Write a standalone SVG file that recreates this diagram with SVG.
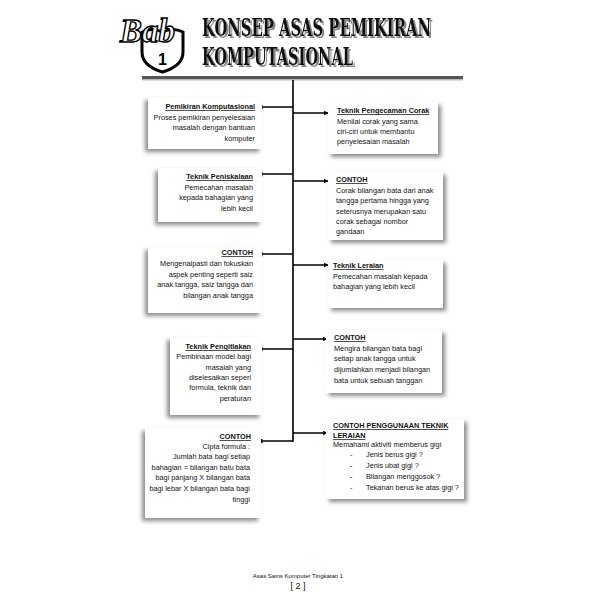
<svg xmlns="http://www.w3.org/2000/svg" width="593" height="593" viewBox="0 0 593 593">
<style>
.t{font-family:"Liberation Sans",Arial,sans-serif;font-size:7.3px;fill:#111}
.b{font-weight:bold;text-decoration:underline}
.r{text-anchor:end}
.box{fill:#fff}
.ln{stroke:#000;stroke-width:1.6;fill:none}
.ttl{font-family:"DejaVu Serif Condensed","DejaVu Serif",serif;font-weight:bold;font-size:24.5px;fill:#111}
</style>
<defs>
<filter id="shL" x="-20%" y="-20%" width="140%" height="140%"><feDropShadow dx="-3" dy="3" stdDeviation="2" flood-color="#000" flood-opacity="0.45"/></filter>
<filter id="shR" x="-20%" y="-20%" width="140%" height="140%"><feDropShadow dx="3" dy="3" stdDeviation="2" flood-color="#000" flood-opacity="0.45"/></filter>
<filter id="shT" x="-10%" y="-50%" width="120%" height="200%"><feDropShadow dx="2" dy="2" stdDeviation="0.6" flood-color="#888" flood-opacity="1"/></filter>
<marker id="ah" viewBox="0 0 10 10" refX="9" refY="5" markerWidth="5" markerHeight="5" markerUnits="userSpaceOnUse" orient="auto"><path d="M0,0 L10,5 L0,10 Z" fill="#000"/></marker>
</defs>
<rect width="593" height="593" fill="#fff"/>

<g id="header">
<path d="M142,32 Q152,27 162.5,32 Q173,27 183,32 L183,52 Q183,66 162.5,72 Q142,66 142,52 Z" fill="#fff" stroke="#000" stroke-width="3"/>
<text x="162.5" y="65" text-anchor="middle" style="font-family:'Liberation Sans',sans-serif;font-weight:bold;font-size:16px" fill="#000">1</text>
<text x="120" y="42" style="font-family:'Liberation Serif',serif;font-style:italic;font-weight:bold;font-size:33px" fill="#fff" stroke="#000" stroke-width="1.4">Bab</text>
<text x="202" y="36" class="ttl" filter="url(#shT)" textLength="229" lengthAdjust="spacingAndGlyphs">KONSEP ASAS PEMIKIRAN</text>
<text x="202" y="65" class="ttl" filter="url(#shT)" textLength="151" lengthAdjust="spacingAndGlyphs">KOMPUTASIONAL</text>
<rect x="142" y="76" width="321" height="3" fill="#555"/>
<rect x="142" y="79" width="321" height="1.5" fill="#bbb"/>
</g>

<g id="connectors">
<line class="ln" x1="293" y1="80" x2="293" y2="441.8"/>
<line class="ln" x1="293" y1="107" x2="258" y2="107" marker-end="url(#ah)"/>
<line class="ln" x1="293" y1="174" x2="258" y2="174" marker-end="url(#ah)"/>
<line class="ln" x1="293" y1="254" x2="258" y2="254" marker-end="url(#ah)"/>
<line class="ln" x1="293" y1="349" x2="258" y2="349" marker-end="url(#ah)"/>
<line class="ln" x1="293" y1="441" x2="258" y2="441" marker-end="url(#ah)"/>
<line class="ln" x1="293" y1="113" x2="328" y2="113" marker-end="url(#ah)"/>
<line class="ln" x1="293" y1="181" x2="328" y2="181" marker-end="url(#ah)"/>
<line class="ln" x1="293" y1="265" x2="328" y2="265" marker-end="url(#ah)"/>
<line class="ln" x1="293" y1="339" x2="327" y2="339" marker-end="url(#ah)"/>
<line class="ln" x1="293" y1="433" x2="327" y2="433" marker-end="url(#ah)"/>
</g>

<g id="n-pemikiran">
<rect class="box" x="148" y="97" width="114" height="52" filter="url(#shL)"/>
<text class="t r b" x="255" y="109">Pemikiran Komputasional</text>
<text class="t r" x="255" y="119.5">Proses pemikiran penyelesaian</text>
<text class="t r" x="255" y="130">masalah dengan bantuan</text>
<text class="t r" x="255" y="140.5">komputer</text>
</g>

<g id="n-peniskalaan">
<rect class="box" x="158" y="168" width="104" height="54" filter="url(#shL)"/>
<text class="t r b" x="253" y="179">Teknik Peniskalaan</text>
<text class="t r" x="253" y="189.5">Pemecahan masalah</text>
<text class="t r" x="253" y="200">kepada bahagian yang</text>
<text class="t r" x="253" y="210.5">lebih kecil</text>
</g>

<g id="n-contoh-l1">
<rect class="box" x="148" y="247" width="114" height="66" filter="url(#shL)"/>
<text class="t r b" x="253" y="255">CONTOH</text>
<text class="t r" x="253" y="266">Mengenalpasti dan fokuskan</text>
<text class="t r" x="253" y="276.5">aspek penting seperti saiz</text>
<text class="t r" x="253" y="287">anak tangga, saiz tangga dan</text>
<text class="t r" x="253" y="297.5">bilangan anak tangga</text>
</g>

<g id="n-pengitlakan">
<rect class="box" x="170" y="337" width="92" height="78" filter="url(#shL)"/>
<text class="t r b" x="251" y="349">Teknik Pengitlakan</text>
<text class="t r" x="251" y="359">Pembinaan model bagi</text>
<text class="t r" x="251" y="369.5">masalah yang</text>
<text class="t r" x="251" y="380">diselesaikan seperi</text>
<text class="t r" x="251" y="390">formula, teknik dan</text>
<text class="t r" x="251" y="400.5">peraturan</text>
</g>

<g id="n-contoh-l2">
<rect class="box" x="145" y="428" width="116" height="90" filter="url(#shL)"/>
<text class="t r b" x="251" y="439">CONTOH</text>
<text class="t r" x="250" y="449">Cipta formula :</text>
<text class="t r" x="250" y="459">Jumlah bata bagi setiap</text>
<text class="t r" x="250" y="469.5">bahagian = bilangan batu bata</text>
<text class="t r" x="250" y="480">bagi panjang X bilangan bata</text>
<text class="t r" x="250" y="490.5">bagi lebar X bilangan bata bagi</text>
<text class="t r" x="250" y="502">tinggi</text>
</g>

<g id="n-pengecaman">
<rect class="box" x="328" y="102" width="110" height="52" filter="url(#shR)"/>
<text class="t b" x="337" y="113">Teknik Pengecaman Corak</text>
<text class="t" x="337" y="123.5">Menilai corak yang sama</text>
<text class="t" x="337" y="133.5">ciri-ciri untuk membantu</text>
<text class="t" x="337" y="144">penyelesaian masalah</text>
</g>

<g id="n-contoh-r1">
<rect class="box" x="328" y="172" width="115" height="68" filter="url(#shR)"/>
<text class="t b" x="336" y="182">CONTOH</text>
<text class="t" x="336" y="192.5">Corak bilangan bata dari anak</text>
<text class="t" x="336" y="203">tangga pertama hingga yang</text>
<text class="t" x="336" y="213.5">seterusnya merupakan satu</text>
<text class="t" x="336" y="224">corak sebagai nombor</text>
<text class="t" x="336" y="234">gandaan</text>
</g>

<g id="n-leraian">
<rect class="box" x="328" y="260" width="115" height="48" filter="url(#shR)"/>
<text class="t b" x="333" y="268">Teknik Leraian</text>
<text class="t" x="333" y="278.5">Pemecahan masalah kepada</text>
<text class="t" x="333" y="288.5">bahagian yang lebih kecil</text>
</g>

<g id="n-contoh-r2">
<rect class="box" x="326" y="330" width="116" height="63" filter="url(#shR)"/>
<text class="t b" x="334" y="340">CONTOH</text>
<text class="t" x="334" y="350.5">Mengira bilangan bata bagi</text>
<text class="t" x="334" y="361">setiap anak tangga untuk</text>
<text class="t" x="334" y="371.5">dijumlahkan menjadi bilangan</text>
<text class="t" x="334" y="382.5">bata untuk sebuah tanggan</text>
</g>

<g id="n-penggunaan">
<rect class="box" x="326" y="419" width="138" height="80" filter="url(#shR)"/>
<text class="t b" x="333" y="428">CONTOH PENGGUNAAN TEKNIK</text>
<text class="t b" x="333" y="438">LERAIAN</text>
<text class="t" x="333" y="447">Memahami aktiviti memberus gigi</text>
<text class="t" x="350" y="457">-</text><text class="t" x="366" y="457">Jenis berus gigi ?</text>
<text class="t" x="350" y="467.5">-</text><text class="t" x="366" y="467.5">Jenis ubat gigi ?</text>
<text class="t" x="350" y="478.5">-</text><text class="t" x="366" y="478.5">Bilangan menggosok ?</text>
<text class="t" x="350" y="490">-</text><text class="t" x="366" y="490">Tekanan berus ke atas gigi ?</text>
</g>

<g id="footer">
<text x="298" y="578" text-anchor="middle" style="font-family:'Liberation Sans',sans-serif;font-size:6px" fill="#111">Asas Sains Komputer Tingkatan 1</text>
<text x="298" y="589" text-anchor="middle" style="font-family:'Liberation Sans',sans-serif;font-size:9px" fill="#111">[ 2 ]</text>
</g>
</svg>
